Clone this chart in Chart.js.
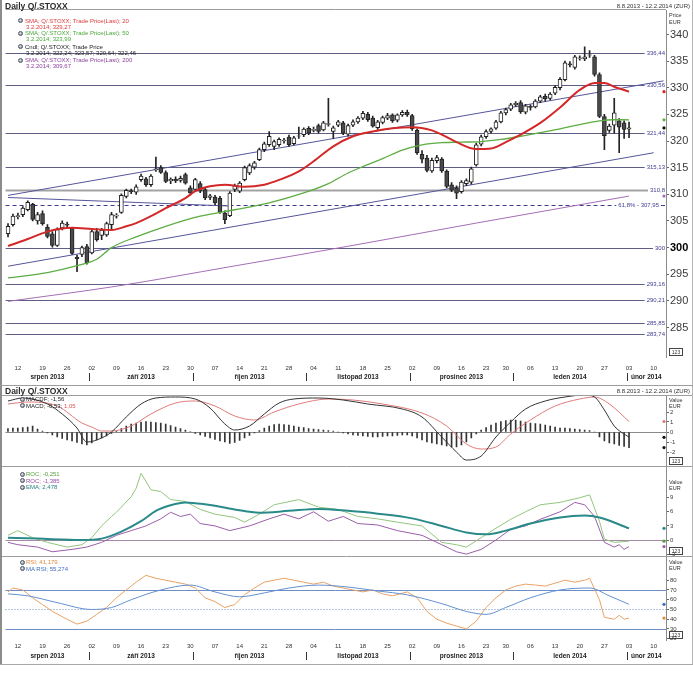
<!DOCTYPE html>
<html>
<head>
<meta charset="utf-8">
<script src="https://cdn.jsdelivr.net/npm/chart.js@4.4.1/dist/chart.umd.min.js"></script>
<style>
html, body { margin: 0; padding: 0; background: #fff; }
#wrap { position: relative; width: 693px; height: 683px; overflow: hidden; background: #fff; }
#wrap canvas { position: absolute; left: 0; }
.bar { position: absolute; }
.ico { position: absolute; width: 5px; height: 5px; border-radius: 50%; background: radial-gradient(circle at 35% 35%, #eee, #6f7a88); border: 0.5px solid #4b5563; box-sizing: border-box; }
</style>
</head>
<body>
<div id="wrap">
  <canvas id="cTop" width="693" height="383" style="top:2px"></canvas>
  <canvas id="cMacd" width="693" height="86" style="top:388px"></canvas>
  <canvas id="cRoc" width="693" height="105" style="top:459px"></canvas>
  <canvas id="cRsi" width="693" height="115" style="top:549px"></canvas>
</div>
<script>
const FONT = '"Liberation Sans", Arial, sans-serif';

const dates = [
  '8.8.2013','9.8.2013','12.8.2013','13.8.2013','14.8.2013','15.8.2013','16.8.2013','19.8.2013','20.8.2013','21.8.2013','22.8.2013','23.8.2013','26.8.2013','27.8.2013','28.8.2013','29.8.2013','30.8.2013',
  '2.9.2013','3.9.2013','4.9.2013','5.9.2013','6.9.2013','9.9.2013','10.9.2013','11.9.2013','12.9.2013','13.9.2013','16.9.2013','17.9.2013','18.9.2013','19.9.2013','20.9.2013','23.9.2013','24.9.2013','25.9.2013','26.9.2013','27.9.2013','30.9.2013',
  '1.10.2013','2.10.2013','3.10.2013','4.10.2013','7.10.2013','8.10.2013','9.10.2013','10.10.2013','11.10.2013','14.10.2013','15.10.2013','16.10.2013','17.10.2013','18.10.2013','21.10.2013','22.10.2013','23.10.2013','24.10.2013','25.10.2013','28.10.2013','29.10.2013','30.10.2013','31.10.2013',
  '1.11.2013','4.11.2013','5.11.2013','6.11.2013','7.11.2013','8.11.2013','11.11.2013','12.11.2013','13.11.2013','14.11.2013','15.11.2013','18.11.2013','19.11.2013','20.11.2013','21.11.2013','22.11.2013','25.11.2013','26.11.2013','27.11.2013','28.11.2013','29.11.2013',
  '2.12.2013','3.12.2013','4.12.2013','5.12.2013','6.12.2013','9.12.2013','10.12.2013','11.12.2013','12.12.2013','13.12.2013','16.12.2013','17.12.2013','18.12.2013','19.12.2013','20.12.2013','23.12.2013','24.12.2013','26.12.2013','27.12.2013','30.12.2013','31.12.2013',
  '1.1.2014','2.1.2014','3.1.2014','6.1.2014','7.1.2014','8.1.2014','9.1.2014','10.1.2014','13.1.2014','14.1.2014','15.1.2014','16.1.2014','17.1.2014','20.1.2014','21.1.2014','22.1.2014','23.1.2014','24.1.2014','27.1.2014','28.1.2014','29.1.2014','30.1.2014','31.1.2014',
  '3.2.2014','4.2.2014','5.2.2014','6.2.2014','7.2.2014','10.2.2014','11.2.2014','12.2.2014'
];
const monthNames = ['srpen 2013', 'září 2013', 'říjen 2013', 'listopad 2013', 'prosinec 2013', 'leden 2014', 'únor 2014'];

// daily candles, Q/.STOXX
const opens = [
  302.6, 304.3, 305.8, 306.2, 307.1, 308.1, 305.0, 306.4, 303.8, 302.6,
  300.4, 303.7, 304.4, 303.6, 298.2, 298.7, 300.2, 299.0, 303.0, 302.3,
  302.4, 304.3, 305.9, 306.6, 309.6, 310.7, 310.4, 312.75, 312.9, 311.8,
  314.6, 315.0, 314.1, 312.5, 312.8, 312.6, 313.7, 311.2, 310.9, 312.0,
  310.9, 309.4, 309.5, 309.3, 306.5, 306.0, 310.9, 310.6, 312.75, 314.0,
  315.1, 316.5, 318.4, 319.3, 319.0, 319.3, 320.0, 320.75, 319.5, 320.9,
  321.2, 322.4, 322.0, 322.9, 322.1, 323.1, 321.8, 323.0, 323.4, 321.3,
  323.0, 323.6, 324.3, 325.0, 324.3, 322.5, 323.5, 324.3, 324.9, 323.9,
  324.9, 325.4, 324.8, 322.0, 317.5, 316.8, 314.4, 316.3, 316.6, 314.3,
  311.8, 311.2, 310.5, 312.0, 312.3, 315.5, 319.4, 320.8, 321.8, 322.4,
  323.6, 325.3, 326.0, 326.8, 327.2, 325.4, 326.5, 326.4, 327.5, 328.4,
  328.0, 329.0, 330.0, 331.5, 334.5, 333.8, 335.5, 335.4, 336.1, 335.8,
  332.5, 324.6, 322.0, 323.0, 323.8, 323.4, 322.24
];
const highs = [
  304.5, 306.3, 306.5, 307.7, 308.8, 308.3, 306.6, 306.9, 304.3, 303.0,
  303.7, 305.0, 304.8, 303.8, 298.6, 300.3, 300.6, 303.3, 303.6, 303.6,
  304.8, 306.6, 306.4, 310.1, 311.0, 311.0, 311.8, 313.8, 313.2, 313.7,
  317.0, 315.4, 314.4, 313.1, 313.3, 313.4, 314.0, 311.6, 313.0, 312.4,
  311.3, 310.0, 309.8, 309.6, 306.9, 310.5, 311.9, 312.4, 315.3, 315.7,
  316.2, 318.7, 319.8, 321.8, 320.2, 320.6, 320.5, 321.1, 320.9, 322.6,
  322.5, 322.7, 322.6, 323.2, 323.7, 328.0, 322.8, 323.9, 323.7, 323.2,
  324.0, 324.6, 325.6, 325.4, 324.7, 323.9, 324.7, 325.2, 325.1, 325.1,
  325.7, 325.8, 325.0, 322.3, 318.2, 317.3, 316.8, 317.3, 316.9, 314.6,
  312.2, 311.6, 312.6, 312.9, 315.1, 319.6, 321.1, 322.1, 322.5, 323.9,
  325.6, 326.2, 327.1, 327.4, 327.6, 326.9, 326.8, 327.8, 328.6, 328.8,
  329.1, 330.4, 331.9, 335.0, 334.9, 336.1, 336.0, 337.7, 337.0, 336.1,
  332.8, 325.0, 323.2, 328.0, 324.2, 323.8, 323.57
];
const lows = [
  302.0, 304.0, 305.4, 305.8, 306.9, 305.0, 304.4, 304.2, 301.8, 300.1,
  300.2, 303.3, 303.8, 298.7, 295.5, 298.3, 296.9, 298.8, 301.2, 301.5,
  302.1, 303.3, 305.5, 306.4, 309.3, 310.1, 310.0, 312.4, 311.5, 311.5,
  314.3, 313.9, 312.2, 312.0, 312.2, 312.3, 311.9, 309.9, 310.6, 310.3,
  309.0, 309.0, 308.0, 306.4, 304.5, 305.8, 310.5, 310.3, 312.5, 313.7,
  314.7, 316.3, 318.0, 319.0, 318.4, 319.0, 319.6, 319.0, 319.3, 320.5,
  320.8, 321.2, 321.7, 321.5, 321.9, 322.8, 320.5, 322.7, 321.2, 320.9,
  322.7, 323.3, 324.0, 323.7, 322.6, 322.2, 323.2, 324.0, 323.5, 323.6,
  324.6, 324.6, 322.0, 317.5, 315.9, 314.2, 314.1, 315.9, 314.1, 311.2,
  310.5, 309.2, 310.2, 311.6, 311.9, 315.3, 319.1, 320.5, 321.5, 322.2,
  323.4, 324.9, 325.7, 326.5, 325.2, 325.1, 325.8, 326.2, 327.2, 327.5,
  327.7, 328.7, 329.6, 331.3, 333.9, 333.5, 335.2, 335.1, 335.7, 332.2,
  324.4, 318.4, 321.6, 321.5, 317.8, 320.5, 320.64
];
const closes = [
  304.0, 305.9, 306.0, 307.4, 308.5, 305.3, 306.2, 304.5, 302.1, 300.4,
  303.4, 304.6, 304.2, 298.9, 297.9, 300.0, 297.1, 303.0, 301.5, 303.3,
  304.5, 306.2, 306.1, 309.8, 310.75, 310.5, 311.4, 313.4, 311.8, 313.4,
  314.8, 314.1, 312.4, 312.8, 312.5, 313.0, 312.1, 310.25, 312.75, 310.6,
  309.3, 309.7, 308.4, 306.6, 305.25, 310.25, 311.6, 312.1, 315.0, 315.4,
  315.9, 318.4, 319.5, 320.9, 319.9, 320.3, 320.2, 319.3, 320.6, 321.0,
  322.25, 321.5, 322.2, 321.8, 323.4, 323.3, 322.5, 323.6, 321.5, 322.9,
  323.6, 324.3, 325.2, 324.0, 322.8, 323.6, 324.4, 324.8, 323.8, 324.9,
  325.4, 324.9, 322.3, 317.8, 316.6, 314.5, 316.4, 316.9, 314.4, 311.5,
  310.8, 310.2, 312.3, 312.6, 314.8, 319.3, 320.8, 321.8, 322.3, 323.6,
  325.3, 325.9, 326.8, 327.1, 325.5, 326.6, 326.3, 327.5, 328.3, 327.9,
  328.8, 330.1, 331.6, 334.7, 334.3, 335.8, 335.6, 335.8, 336.2, 332.5,
  324.6, 321.0, 322.8, 325.3, 322.6, 322.2, 322.46
];

// moving averages, read as [day index, value]
const sma20 = [[0,300.3],[4,301.6],[8,303.0],[13,303.7],[17,303.5],[21,303.3],[24,304.0],[26,304.6],[29,305.9],[32,307.4],[36,309.3],[38,310.6],[41,311.5],[44,311.8],[48,311.4],[52,311.8],[55,312.7],[59,314.3],[62,316.2],[66,319.0],[70,320.9],[74,321.8],[78,322.4],[82,322.6],[86,322.0],[88,321.2],[91,319.8],[95,318.5],[98,318.6],[101,319.8],[104,321.2],[108,323.4],[112,326.3],[116,329.6],[119,330.9],[121,330.9],[123,330.2],[126,329.27]];
const sma50 = [[0,294.3],[8,295.3],[14,296.6],[18,297.8],[21,300.0],[26,302.0],[32,304.0],[39,305.9],[46,307.1],[53,308.4],[60,310.25],[65,312.0],[69,314.0],[72,315.2],[76,316.7],[80,318.3],[84,319.3],[88,319.7],[92,319.8],[96,319.9],[100,320.3],[104,320.9],[108,321.6],[112,322.3],[116,323.1],[120,323.8],[123,324.0],[126,323.99]];
const sma200 = [[0,289.9],[22,292.75],[45,296.4],[69,300.25],[95,304.6],[126,309.67]];
const trendUpper = [[0,309.8],[133,331.3]];
const trendLower = [[0,296.5],[131,317.8]];
const trendFlat = [[0,309.4],[45,307.8]];
const levels = [336.44, 330.56, 321.44, 315.13, 310.8, 300, 293.16, 290.21, 285.85, 283.74];
const fibLevel = 307.95;
const priceTicks = [285, 290, 295, 300, 305, 310, 315, 320, 325, 330, 335, 340];

// MACD panel
const macdLine = [[0,3.1],[3,3.4],[8,2.8],[11,1.8],[14,0.4],[16,-1.0],[19,-0.6],[21,0.0],[24,1.5],[27,2.8],[30,3.4],[34,3.5],[38,3.3],[41,2.4],[44,0.8],[46,0.2],[49,0.6],[52,1.8],[55,2.9],[58,3.3],[63,3.4],[68,3.2],[73,2.8],[80,2.3],[84,1.5],[88,-0.5],[91,-2.0],[93,-2.8],[96,-2.4],[99,-0.5],[102,1.0],[105,2.3],[109,3.1],[113,3.5],[117,3.7],[119,3.5],[121,2.2],[123,0.6],[126,-0.53]];
const macdSignal = [[0,2.8],[4,3.0],[10,2.6],[15,0.9],[17,0.5],[19,0.1],[21,0.1],[25,0.6],[29,1.8],[34,2.9],[38,3.1],[42,2.6],[46,1.6],[50,1.2],[54,2.0],[59,2.8],[65,3.3],[70,3.2],[76,2.8],[84,1.9],[89,0.6],[93,-1.2],[96,-1.7],[99,-1.5],[102,-0.2],[106,1.2],[111,2.6],[116,3.3],[119,3.5],[122,2.8],[126,1.05]];
const macdHist = [
  0.35, 0.4, 0.4, 0.45, 0.5, 0.6, 0.3, 0.1, -0.1, -0.3,
  -0.5, -0.65, -0.8, -0.9, -1.05, -1.2, -1.3, -1.1, -0.8, -0.6,
  -0.4, -0.15, 0.1, 0.35, 0.6, 0.8, 0.9, 1.0, 1.05, 1.0,
  0.95, 0.9, 0.8, 0.65, 0.5, 0.35, 0.2, 0.05, -0.15, -0.3,
  -0.45, -0.6, -0.75, -0.9, -1.0, -1.15, -1.05, -0.85, -0.6, -0.35,
  -0.1, 0.15, 0.4, 0.6, 0.75, 0.8, 0.75, 0.7, 0.6, 0.5,
  0.45, 0.35, 0.3, 0.25, 0.2, 0.15, 0.1, 0.0, -0.1, -0.2,
  -0.3, -0.35, -0.4, -0.45, -0.5, -0.5, -0.45, -0.4, -0.4, -0.35,
  -0.3, -0.3, -0.4, -0.6, -0.8, -1.0, -1.1, -1.2, -1.3, -1.4,
  -1.5, -1.5, -1.3, -1.0, -0.6, -0.2, 0.2, 0.45, 0.7, 0.9,
  1.05, 1.15, 1.2, 1.2, 1.1, 1.0, 0.9, 0.85, 0.8, 0.7,
  0.6, 0.5, 0.4, 0.4, 0.35, 0.3, 0.25, 0.2, 0.15, 0.0,
  -0.5, -0.9, -1.1, -1.2, -1.35, -1.45, -1.56
];
const macdTicks = [-2, -1, 0, 1, 2];

// ROC panel
const rocFast = [[0,1.0],[2,2.0],[5,0.5],[8,-0.5],[12,-1.5],[15,-1.0],[17,0.5],[19,3.0],[21,5.0],[22,5.9],[25,9.2],[26,11.0],[27,14.2],[29,10.7],[31,10.3],[33,8.6],[36,8.2],[39,6.5],[42,5.5],[46,4.8],[48,3.8],[51,5.5],[54,7.5],[59,8.6],[63,7.0],[67,6.5],[71,5.0],[75,4.5],[79,3.8],[84,3.0],[88,-0.5],[91,-1.0],[93,-1.5],[96,0.5],[99,2.5],[102,4.4],[105,6.0],[108,7.5],[112,8.0],[116,9.0],[118,9.6],[120,4.0],[121,0.2],[123,-0.5],[126,-0.251]];
const rocSlow = [[0,-0.5],[2,-1.0],[6,-1.5],[9,-2.5],[13,-2.0],[16,-1.5],[19,-0.5],[22,1.0],[25,2.0],[28,3.0],[31,4.5],[33,5.9],[35,5.0],[37,5.5],[39,3.5],[42,3.0],[45,2.0],[49,3.0],[53,4.5],[56,5.5],[59,4.5],[62,6.0],[65,4.0],[68,5.0],[71,3.5],[75,3.2],[79,2.0],[84,1.0],[88,-1.0],[91,-2.5],[93,-3.0],[96,-2.0],[99,0.0],[102,2.3],[105,3.0],[108,4.4],[112,6.0],[115,8.0],[117,7.5],[119,5.0],[121,-0.5],[123,-1.5],[124,-1.0],[125,-2.0],[126,-1.385]];
const rocEma = [[0,0.5],[6,0.3],[15,0.0],[19,0.3],[23,1.8],[27,4.0],[30,6.2],[33,7.4],[36,8.0],[40,7.6],[46,6.5],[51,5.8],[57,6.2],[63,6.6],[69,6.2],[75,5.6],[82,4.6],[88,3.0],[93,1.6],[97,1.2],[101,2.0],[106,3.5],[112,4.8],[117,5.2],[120,4.8],[126,2.478]];
const rocTicks = [-3, 0, 3, 6, 9];

// RSI panel
const rsi = [[0,68],[1,72],[3,70],[5,62],[7,55],[9,48],[12,40],[14,35],[16,38],[18,45],[20,52],[22,62],[24,70],[26,78],[28,85],[30,82],[32,80],[34,78],[36,76],[38,72],[40,62],[42,58],[44,52],[46,55],[48,65],[50,72],[52,78],[54,80],[56,82],[58,80],[60,78],[62,76],[64,78],[66,74],[68,72],[70,70],[72,68],[74,70],[76,66],[78,64],[81,68],[83,62],[85,48],[87,40],[89,36],[91,33],[93,30],[95,38],[97,52],[99,62],[101,70],[103,74],[105,76],[107,75],[109,74],[111,77],[113,80],[115,78],[117,80],[118,82],[120,60],[121,42],[123,40],[124,44],[125,40],[126,41.179]];
const maRsi = [[0,66],[4,64],[10,57],[17,50],[21,52],[25,60],[31,70],[37,75],[42,68],[47,63],[52,67],[57,72],[63,75],[69,73],[75,69],[81,65],[88,56],[93,48],[97,45],[101,52],[106,62],[112,70],[118,72],[122,64],[126,55.274]];
const rsiTicks = [20, 30, 40, 50, 60, 70, 80];

const fmt = (v) => String(v).replace('.', ',');
const last = (arr) => arr[arr.length - 1][1];
const pts = (arr) => arr.map(([i, v]) => ({ x: dates[i], y: v }));

const monthKeys = [], monthStart = [], monthEnd = [];
dates.forEach((d, i) => {
  const k = d.split('.').slice(1).join('.');
  const m = monthKeys.indexOf(k);
  if (m < 0) { monthKeys.push(k); monthStart.push(i); monthEnd.push(i); } else monthEnd[m] = i;
});

function dayTick(i) {
  const [d, m, y] = dates[i].split('.').map(Number);
  return new Date(y, m - 1, d).getDay() === 1 ? String(d).padStart(2, '0') : '';
}

const hlinePlugin = {
  id: 'hlines',
  beforeDatasetsDraw(chart, args, opts) {
    const { ctx, chartArea: a, scales: { y } } = chart;
    ctx.save();
    (opts.lines || []).forEach((l) => {
      const py = Math.round(y.getPixelForValue(l.value)) + 0.5;
      let end = a.right;
      const tail = l.tail || 0;
      if (l.label) {
        ctx.font = '6px ' + FONT;
        const w = ctx.measureText(l.label).width;
        end = a.right - tail - w - 3;
        ctx.fillStyle = l.textColor || '#3d3d8f';
        ctx.textAlign = 'right';
        ctx.textBaseline = 'middle';
        ctx.fillText(l.label, a.right - tail - 1, py);
      }
      ctx.strokeStyle = l.color;
      ctx.lineWidth = l.width || 1;
      ctx.setLineDash(l.dash || []);
      ctx.beginPath();
      ctx.moveTo(a.left, py);
      ctx.lineTo(end, py);
      if (tail) { ctx.moveTo(a.right - tail + 1, py); ctx.lineTo(a.right, py); }
      ctx.stroke();
      ctx.setLineDash([]);
    });
    ctx.restore();
  }
};

const framePlugin = {
  id: 'frame',
  afterDraw(chart, args, opts) {
    const { ctx, chartArea: a, scales: { y } } = chart;
    ctx.save();
    ctx.strokeStyle = '#9d9d9d';
    ctx.lineWidth = 1;
    const t = Math.round(a.top) - 0.5;
    ctx.beginPath();
    ctx.moveTo(opts.full ? 0 : a.left, t);
    ctx.lineTo(opts.full ? chart.width : a.right, t);
    ctx.stroke();
    (opts.markers || []).forEach(([v, c]) => {
      ctx.fillStyle = c;
      ctx.beginPath();
      ctx.arc(a.right - 2, y.getPixelForValue(v), 1.6, 0, Math.PI * 2);
      ctx.fill();
    });
    const bx = Math.round(a.right) + 3.5, by = Math.round(a.bottom) - 8.5;
    ctx.strokeStyle = '#444';
    ctx.strokeRect(bx, by, 13, 7);
    ctx.fillStyle = '#333';
    ctx.font = '5px ' + FONT;
    ctx.textAlign = 'center';
    ctx.textBaseline = 'middle';
    ctx.fillText('123', bx + 6.5, by + 3.8);
    ctx.restore();
  }
};

const monthPlugin = {
  id: 'months',
  afterDraw(chart, args, opts) {
    const { ctx, chartArea: a, scales: { x } } = chart;
    const py = a.bottom + opts.gap;
    ctx.save();
    ctx.font = 'bold 6.5px ' + FONT;
    ctx.fillStyle = '#222';
    ctx.textAlign = 'center';
    ctx.textBaseline = 'middle';
    ctx.strokeStyle = '#333';
    ctx.lineWidth = 1;
    monthNames.forEach((name, m) => {
      const cx = (x.getPixelForValue(monthStart[m]) + x.getPixelForValue(monthEnd[m])) / 2;
      ctx.fillText(name, cx, py);
      if (m > 0) {
        const sx = Math.round((x.getPixelForValue(monthStart[m] - 1) + x.getPixelForValue(monthStart[m])) / 2) + 0.5;
        ctx.beginPath();
        ctx.moveTo(sx, py - 4);
        ctx.lineTo(sx, py + 4);
        ctx.stroke();
      }
    });
    ctx.restore();
  }
};

function xAxis(show, height, pad) {
  const axis = {
    type: 'category', offset: true, display: show,
    grid: { display: false, drawTicks: false },
    border: { display: false },
    ticks: { autoSkip: false, maxRotation: 0, padding: pad || 3, color: '#333', font: { family: FONT, size: 6 }, callback: (v, i) => dayTick(i) }
  };
  if (show) axis.afterFit = (s) => { s.height = height; };
  return axis;
}

function yAxis(min, max, ticks, size) {
  return {
    position: 'right', min, max,
    grid: { drawOnChartArea: false, drawTicks: true, tickLength: 3, color: '#666' },
    border: { display: true, color: '#8c8c8c' },
    ticks: {
      padding: 1,
      color: (c) => (c.tick && c.tick.value === 300 && size > 8 ? '#000' : '#3a3a3a'),
      font: (c) => ({ family: FONT, size, weight: c.tick && c.tick.value === 300 && size > 8 ? 'bold' : 'normal' })
    },
    afterBuildTicks: (s) => { s.ticks = ticks.map((value) => ({ value })); },
    afterFit: (s) => { s.width = 27; }
  };
}

const base = { responsive: false, animation: false, events: [] };
const noLegend = { legend: { display: false }, tooltip: { enabled: false } };
const line = (data, color, width, smooth, order) => ({
  type: 'line', data: pts(data), borderColor: color, borderWidth: width, pointRadius: 0, fill: false,
  cubicInterpolationMode: smooth ? 'monotone' : 'default', tension: 0, order
});

new Chart(document.getElementById('cTop'), {
  type: 'bar',
  data: {
    labels: dates,
    datasets: [
      line(sma20, '#d42828', 2, true, 1),
      line(sma50, '#5cad42', 1.3, true, 2),
      line(sma200, '#a56db6', 1, true, 3),
      line(trendUpper, '#55559a', 1, false, 8),
      line(trendLower, '#55559a', 1, false, 8),
      line(trendFlat, '#55559a', 1, false, 8),
      { data: lows.map((l, i) => [l, highs[i]]), backgroundColor: '#222', barThickness: 1, grouped: false, order: 6 },
      { data: opens.map((o, i) => [o, closes[i]]), backgroundColor: closes.map((c, i) => (c >= opens[i] ? '#ffffff' : '#4a4a4a')), borderColor: '#222', borderWidth: 1, borderSkipped: false, barThickness: 4, grouped: false, order: 5 }
    ]
  },
  options: {
    ...base,
    layout: { padding: { left: 5.5, top: 8, right: 0, bottom: 0 } },
    plugins: {
      ...noLegend,
      hlines: {
        lines: [
          ...levels.map((v) => ({ value: v, label: fmt(v), color: v === 310.8 ? '#a3a3a3' : '#5e5e84', width: v === 310.8 ? 2 : 1 })),
          { value: fibLevel, label: '61,8% - ' + fmt(fibLevel), color: '#3d3d8f', dash: [4, 3], tail: 6 }
        ]
      },
      frame: { full: false, markers: [[last(sma20), '#d42828'], [last(sma50), '#5cad42'], [closes[closes.length - 1], '#111'], [last(sma200), '#a56db6']] },
      months: { gap: 20 }
    },
    scales: { x: xAxis(true, 28, 8), y: yAxis(279.46, 344.6, priceTicks, 11) }
  },
  plugins: [hlinePlugin, framePlugin, monthPlugin]
});

new Chart(document.getElementById('cMacd'), {
  type: 'bar',
  data: {
    labels: dates,
    datasets: [
      line(macdLine, '#333333', 1, true, 1),
      line(macdSignal, '#e07a7a', 1, true, 2),
      { data: macdHist, backgroundColor: '#333', barThickness: 1, order: 3 }
    ]
  },
  options: {
    ...base,
    layout: { padding: { left: 5.5, top: 8, right: 0, bottom: 8 } },
    plugins: {
      ...noLegend,
      hlines: { lines: [{ value: 0, color: '#8a8a8a' }] },
      frame: { full: true, markers: [[last(macdSignal), '#e07a7a'], [last(macdLine), '#111'], [macdHist[macdHist.length - 1], '#111']] }
    },
    scales: { x: xAxis(false), y: yAxis(-3.4, 3.6, macdTicks, 6) }
  },
  plugins: [hlinePlugin, framePlugin]
});

new Chart(document.getElementById('cRoc'), {
  type: 'line',
  data: {
    labels: dates,
    datasets: [
      line(rocEma, '#2a8a8a', 2, true, 1),
      line(rocFast, '#92c57e', 1, false, 2),
      line(rocSlow, '#9b5ea8', 1, false, 3)
    ]
  },
  options: {
    ...base,
    layout: { padding: { left: 5.5, top: 8, right: 0, bottom: 8 } },
    plugins: {
      ...noLegend,
      hlines: { lines: [{ value: 0, color: '#a58aa8' }] },
      frame: { full: true, markers: [[last(rocEma), '#2a8a8a'], [last(rocFast), '#5aa040'], [last(rocSlow), '#9b5ea8']] }
    },
    scales: { x: xAxis(false), y: yAxis(-3.4, 15.53, rocTicks, 6) }
  },
  plugins: [hlinePlugin, framePlugin]
});

new Chart(document.getElementById('cRsi'), {
  type: 'line',
  data: {
    labels: dates,
    datasets: [
      line(rsi, '#e9a264', 1, false, 2),
      line(maRsi, '#6390d2', 1, true, 1)
    ]
  },
  options: {
    ...base,
    layout: { padding: { left: 5.5, top: 8, right: 0, bottom: 0 } },
    plugins: {
      ...noLegend,
      hlines: { lines: [{ value: 70, color: '#6d8fc6' }, { value: 30, color: '#6d8fc6' }, { value: 50, color: '#6d8fc6', dash: [1, 2] }] },
      frame: { full: true, markers: [[last(maRsi), '#3d6fc0'], [last(rsi), '#e08a40']] },
      months: { gap: 16 }
    },
    scales: { x: xAxis(true, 24, 3), y: yAxis(18.7, 103.8, rsiTicks, 6) }
  },
  plugins: [hlinePlugin, framePlugin, monthPlugin]
});

// static texts, headers, legends and frame
const wrap = document.getElementById('wrap');
function txt(s, x, y, color, size, bold, right) {
  const el = document.createElement('div');
  el.textContent = s;
  el.style.cssText = 'position:absolute;white-space:nowrap;font-family:' + FONT + ';font-size:' + size + 'px;line-height:' + (size + 2) + 'px;color:' + color + ';top:' + (y - (size + 2) / 2) + 'px;font-weight:' + (bold ? 'bold' : 'normal') + ';';
  if (right) el.style.right = x + 'px'; else el.style.left = x + 'px';
  wrap.appendChild(el);
  return el;
}
function icon(x, y) {
  const el = document.createElement('div');
  el.className = 'ico';
  el.style.left = (x - 2.5) + 'px';
  el.style.top = (y - 2.5) + 'px';
  wrap.appendChild(el);
}
function rule(x, y, w, h, c) {
  const el = document.createElement('div');
  el.className = 'bar';
  el.style.cssText += 'left:' + x + 'px;top:' + y + 'px;width:' + w + 'px;height:' + h + 'px;background:' + c + ';';
  wrap.appendChild(el);
}

rule(0, 0, 2, 665, '#8c8c8c');
rule(692, 0, 1, 665, '#b5b5b5');
rule(0, 664, 693, 1, '#a8a8a8');
rule(0, 385, 693, 1, '#9d9d9d');

txt('Daily Q/.STOXX', 5, 6, '#2b2b2b', 8.5, true);
txt('8.8.2013 - 12.2.2014 (ZUR)', 3, 6, '#333', 6, false, true);
txt('Price', 669, 16, '#333', 5.5);
txt('EUR', 669, 23, '#333', 5.5);

const cRed = '#e03a3a', cGreen = '#4aa83a', cPurple = '#8e3f9e';
icon(20, 20.7); txt('SMA; Q/.STOXX; Trade Price(Last); 20', 25, 20.7, cRed, 6);
txt('3.2.2014; ' + fmt(last(sma20)), 26, 26.7, cRed, 6);
icon(20, 33.3); txt('SMA; Q/.STOXX; Trade Price(Last); 50', 25, 33.3, cGreen, 6);
txt('3.2.2014; ' + fmt(last(sma50)), 26, 39.3, cGreen, 6);
icon(20, 46.7); txt('Cndl; Q/.STOXX; Trade Price', 25, 46.7, '#222', 6);
txt('3.2.2014; ' + [opens, highs, lows, closes].map((a) => fmt(a[a.length - 1])).join('; '), 26, 52.7, '#222', 6);
icon(20, 60); txt('SMA; Q/.STOXX; Trade Price(Last); 200', 25, 60, cPurple, 6);
txt('3.2.2014; ' + fmt(last(sma200)), 26, 66, cPurple, 6);

txt('Daily Q/.STOXX', 5, 391, '#2b2b2b', 8.5, true);
txt('8.8.2013 - 12.2.2014 (ZUR)', 3, 391, '#333', 6, false, true);

icon(22, 399); txt('MACDF; ' + fmt(macdHist[macdHist.length - 1]), 26, 399, '#222', 6);
icon(22, 405.5);
const m2 = txt('MACD; ' + fmt(last(macdLine)) + '; ', 26, 405.5, '#222', 6);
const sig = document.createElement('span'); sig.textContent = fmt(last(macdSignal)); sig.style.color = '#e05050'; m2.appendChild(sig);
txt('Value', 669, 401, '#333', 5.5); txt('EUR', 669, 407, '#333', 5.5);

icon(22, 474); txt('ROC; ' + fmt(last(rocFast)), 26, 474, '#5aa040', 6);
icon(22, 480.5); txt('ROC; ' + fmt(last(rocSlow)), 26, 480.5, '#9b4fa8', 6);
icon(22, 487); txt('EMA; ' + fmt(last(rocEma)), 26, 487, '#2a8080', 6);
txt('Value', 669, 483, '#333', 5.5); txt('EUR', 669, 489, '#333', 5.5);

icon(22, 562); txt('RSI; ' + fmt(last(rsi)), 26, 562, '#e08a40', 6);
icon(22, 568.5); txt('MA RSI; ' + fmt(last(maRsi)), 26, 568.5, '#3d6fc0', 6);
txt('Value', 669, 563, '#333', 5.5); txt('EUR', 669, 569, '#333', 5.5);
</script>
</body>
</html>
